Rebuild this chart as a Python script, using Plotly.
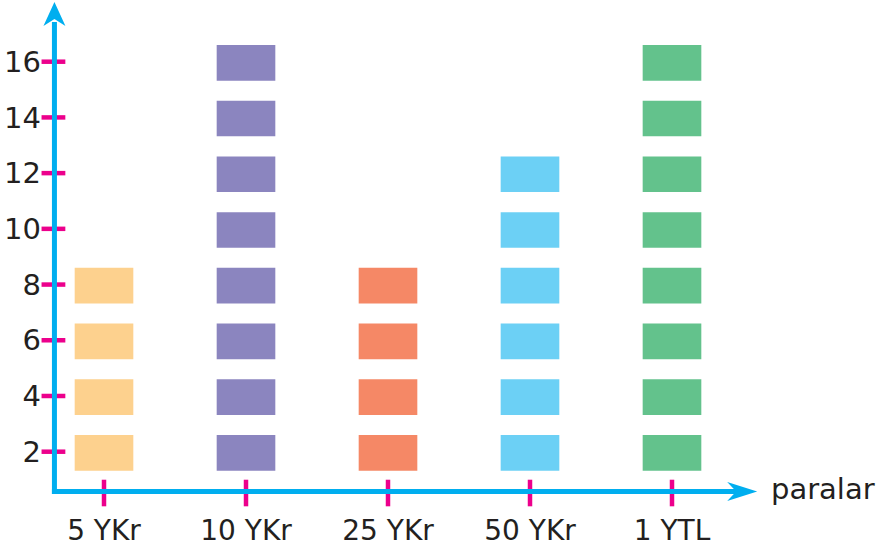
import plotly.graph_objects as go

# Coin types and how many of each (one block = 2 coins)
categories = ["5 YKr", "10 YKr", "25 YKr", "50 YKr", "1 YTL"]
counts = [8, 16, 8, 12, 16]
block_value = 2
y_ticks = [2, 4, 6, 8, 10, 12, 14, 16]
colors = ["#FDD18E", "#8B85BF", "#F58866", "#6CD0F5", "#63C28C"]
x_title = "paralar"

AXIS_BLUE = "#00AEEF"
TICK_PINK = "#EC008C"
TEXT = "#231F20"
FONT = "DejaVu Sans"

W, H = 884, 548
x_range = [-0.7324, 5.493]
y_range = [-1.457, 18.215]
px_per_x = W / (x_range[1] - x_range[0])
px_per_y = H / (y_range[1] - y_range[0])

# axis origin (data units)
ax_x = -0.349
ax_y = 0.571
x_tip = 4.60
y_tip = 18.14

fig = go.Figure()

block_h = 1.28
block_w = 0.413
for i, (cat, n, col) in enumerate(zip(categories, counts, colors)):
    levels = list(range(block_value, n + 1, block_value))
    fig.add_trace(go.Bar(
        x=[i] * len(levels),
        y=[block_h] * len(levels),
        base=[v - 0.68 for v in levels],
        width=block_w,
        marker=dict(color=col, line=dict(width=0)),
        hoverinfo="skip",
        name=cat,
    ))

# axis lines
fig.add_shape(type="line", x0=ax_x, x1=ax_x,
              y0=ax_y - 2.5 / px_per_y, y1=y_tip - 20 / px_per_y,
              line=dict(color=AXIS_BLUE, width=5))
fig.add_shape(type="line", x0=ax_x - 2.5 / px_per_x, x1=x_tip - 20 / px_per_x,
              y0=ax_y, y1=ax_y, line=dict(color=AXIS_BLUE, width=5))

# arrow heads
def ypath(xc, yt):
    dx, dy, dn = 11 / px_per_x, 24 / px_per_y, 17 / px_per_y
    return (f"M {xc} {yt} L {xc + dx} {yt - dy} L {xc} {yt - dn} "
            f"L {xc - dx} {yt - dy} Z")

def xpath(xt, yc):
    dx, dy, dn = 30 / px_per_x, 9.5 / px_per_y, 21 / px_per_x
    return (f"M {xt} {yc} L {xt - dx} {yc + dy} L {xt - dn} {yc} "
            f"L {xt - dx} {yc - dy} Z")

fig.add_shape(type="path", path=ypath(ax_x, y_tip),
              fillcolor=AXIS_BLUE, line=dict(width=0))
fig.add_shape(type="path", path=xpath(x_tip, ax_y),
              fillcolor=AXIS_BLUE, line=dict(width=0))

# tick marks
fig.add_trace(go.Scatter(
    x=[ax_x - 1 / px_per_x] * len(y_ticks), y=y_ticks, mode="markers",
    marker=dict(symbol="line-ew", size=17,
                line=dict(color=TICK_PINK, width=4.5)),
    hoverinfo="skip", showlegend=False))
fig.add_trace(go.Scatter(
    x=list(range(len(categories))), y=[ax_y - 1.5 / px_per_y] * len(categories),
    mode="markers",
    marker=dict(symbol="line-ns", size=19,
                line=dict(color=TICK_PINK, width=4.5)),
    hoverinfo="skip", showlegend=False))

fig.add_annotation(x=769 / W, y=(H - 489) / H, xref="paper", yref="paper",
                   text=x_title, showarrow=False, xanchor="left",
                   yanchor="middle", font=dict(family=FONT, size=29, color=TEXT))

fig.update_layout(
    width=W, height=H,
    margin=dict(l=0, r=0, t=0, b=0),
    paper_bgcolor="white", plot_bgcolor="white",
    barmode="overlay", showlegend=False,
    xaxis=dict(range=x_range, tickvals=list(range(len(categories))),
               ticktext=categories, showgrid=False, zeroline=False,
               showline=False, ticks="", anchor="free",
               position=(H - 511) / H,
               tickfont=dict(family=FONT, size=28, color=TEXT)),
    yaxis=dict(range=y_range, tickvals=y_ticks, showgrid=False,
               zeroline=False, showline=False, ticks="", anchor="free",
               position=41 / W,
               tickfont=dict(family=FONT, size=29, color=TEXT)),
)

fig.write_html("out.html")
